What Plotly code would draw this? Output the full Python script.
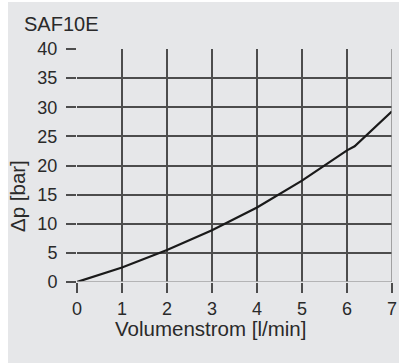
import plotly.graph_objects as go

# Pressure drop curve of the SAF10E
flow = [0, 1, 2, 3, 4, 5, 6, 6.17, 7]          # l/min
dp = [0, 2.5, 5.5, 8.9, 12.8, 17.4, 22.6, 23.3, 29.3]  # bar

x_ticks = [0, 1, 2, 3, 4, 5, 6, 7]
y_ticks = [0, 5, 10, 15, 20, 25, 30, 35, 40]

W, H = 399, 363
L, R, T, B = 77, 7, 49, 81
BG = "#e6e7e9"
GRID = "#4d4d4d"
TXT = "#2a2a2a"
FONT = "Liberation Sans, Arial, sans-serif"

pw, ph = W - L - R, H - T - B


def px_x(p):
    return (p - L) / pw


def px_y(p):
    return (H - B - p) / ph


fig = go.Figure()
fig.add_trace(go.Scatter(
    x=flow, y=dp, mode="lines",
    line=dict(color="#1a1a1a", width=2.2),
    hoverinfo="skip", showlegend=False,
))

axis_common = dict(
    showgrid=True, gridcolor=GRID, gridwidth=1.5,
    ticks="outside", ticklen=10, tickwidth=1.5, tickcolor=GRID,
    showline=False, zeroline=False, automargin=False,
    tickfont=dict(family=FONT, size=18, color=TXT),
)

fig.update_xaxes(range=[0, 7], tickvals=x_ticks, ticktext=[str(v) for v in x_ticks], **axis_common)
fig.update_yaxes(range=[0, 40], tickvals=y_ticks, ticktext=[str(v) for v in y_ticks],
                 ticklabelstandoff=5, **axis_common)

# lighter bottom and right frame lines
fig.add_shape(type="line", xref="x", yref="y", x0=0, x1=7, y0=0, y1=0,
              line=dict(color="#a3a3a3", width=1.5), layer="above")
fig.add_shape(type="line", xref="x", yref="y", x0=7, x1=7, y0=0, y1=40,
              line=dict(color="#8a8a8a", width=1.5), layer="above")

# white margin strips on the left and top
fig.add_shape(type="rect", xref="paper", yref="paper",
              x0=px_x(-5), x1=px_x(8), y0=px_y(H + 5), y1=px_y(-5),
              fillcolor="white", line=dict(width=0), layer="above")
fig.add_shape(type="rect", xref="paper", yref="paper",
              x0=px_x(-5), x1=px_x(W + 5), y0=px_y(2), y1=px_y(-5),
              fillcolor="white", line=dict(width=0), layer="above")

fig.add_annotation(text="SAF10E", xref="paper", yref="paper",
                   x=px_x(22), y=px_y(24), xanchor="left", yanchor="middle",
                   showarrow=False, font=dict(family=FONT, size=20, color=TXT))
fig.add_annotation(text="Volumenstrom [l/min]", xref="paper", yref="paper",
                   x=px_x(210), y=px_y(328), xanchor="center", yanchor="middle",
                   showarrow=False, font=dict(family=FONT, size=20.5, color=TXT))
fig.add_annotation(text="Δp [bar]", xref="paper", yref="paper",
                   x=px_x(17), y=px_y(196), xanchor="center", yanchor="middle",
                   textangle=-90, showarrow=False,
                   font=dict(family=FONT, size=20.5, color=TXT))

fig.update_layout(
    width=W, height=H,
    margin=dict(l=L, r=R, t=T, b=B, autoexpand=False),
    paper_bgcolor=BG, plot_bgcolor=BG,
    showlegend=False,
)

fig.write_html("out.html", config={"displayModeBar": False})
